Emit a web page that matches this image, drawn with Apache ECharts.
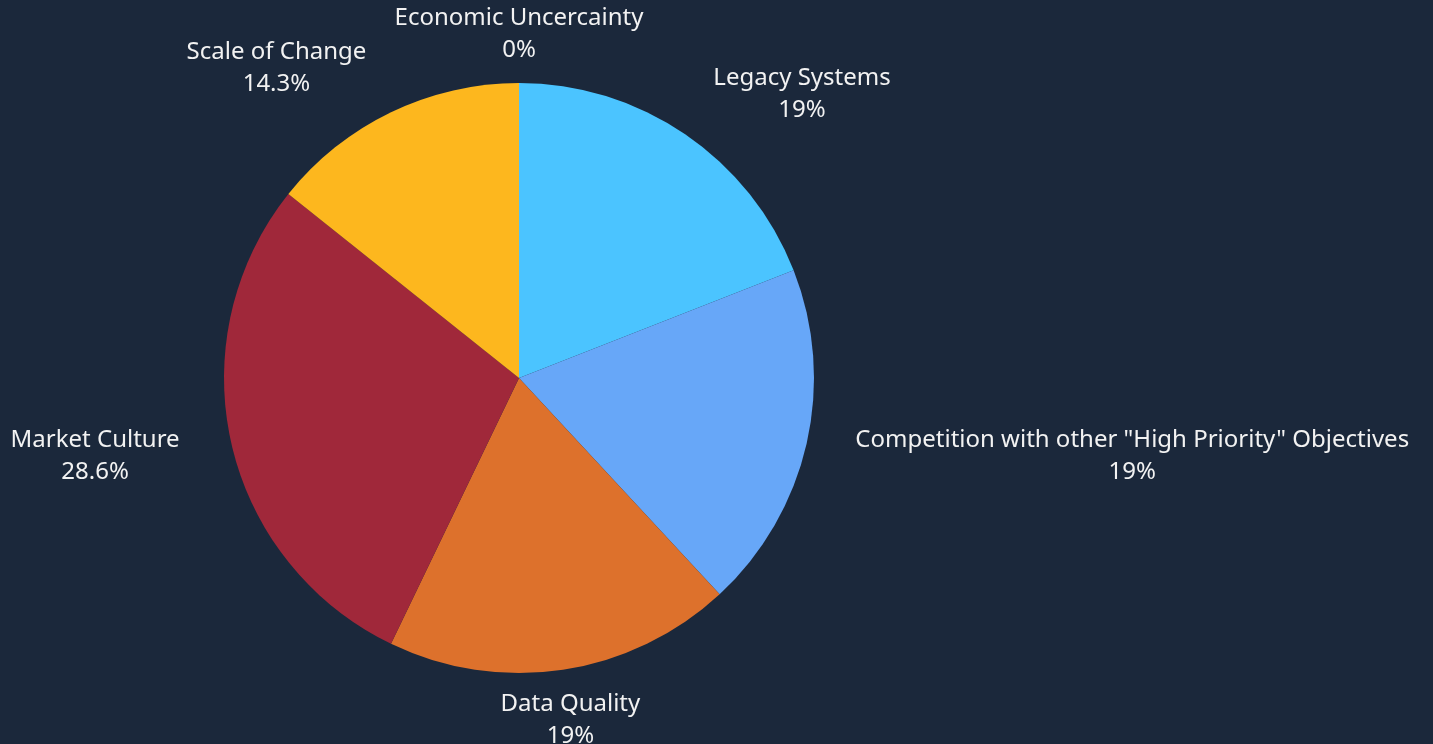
<!DOCTYPE html>
<html>
<head>
<meta charset="utf-8">
<script src="https://cdn.jsdelivr.net/npm/echarts@6/dist/echarts.min.js"></script>
<style>
html,body{margin:0;padding:0;background:#1b283b;}
#chart{width:1433px;height:744px;}
</style>
</head>
<body>
<div id="chart"></div>
<script>
const categories = ['Legacy Systems', 'Competition with other "High Priority" Objectives', 'Data Quality', 'Market Culture', 'Scale of Change', 'Economic Uncercainty'];
const values = [4, 4, 4, 6, 3, 0];
const colors = ['#4bc4ff', '#67a7f8', '#dd712c', '#a0283a', '#fdb71e', '#8e8e8e'];

const total = values.reduce((a, b) => a + b, 0);
const chart = echarts.init(document.getElementById('chart'));
chart.setOption({
  backgroundColor: '#1b283b',
  animation: false,
  series: [{
    type: 'pie',
    center: [519, 378],
    radius: [0, 295],
    startAngle: 90,
    clockwise: true,
    avoidLabelOverlap: false,
    minShowLabelAngle: 0,
    data: categories.map((c, i) => ({ name: c, value: values[i], itemStyle: { color: colors[i] } })),
    itemStyle: { borderWidth: 0 },
    emphasis: { disabled: true },
    label: {
      show: true,
      position: 'outside',
      distanceToLabelLine: 0,
      formatter: p => p.name + '\n' + (Math.round(p.value / total * 1000) / 10) + '%',
      color: '#f2f2f2',
      fontFamily: 'Noto Sans',
      fontSize: 24,
      lineHeight: 32,
      align: 'center'
    },
    labelLine: { show: false, length: 50, length2: 0 },
    labelLayout: function (params) {
      const pts = params.labelLinePoints;
      const r = params.labelRect;
      if (!pts) return {};
      const p0 = pts[0], p1 = pts[1];
      const dx = p1[0] - p0[0], dy = p1[1] - p0[1];
      const len = Math.sqrt(dx * dx + dy * dy) || 1;
      const ratio = dx / len;
      let x;
      if (Math.abs(ratio) < 0.3) x = p1[0];
      else if (ratio > 0) x = p1[0] + r.width / 2;
      else x = p1[0] - r.width / 2 - 3;
      return { x: x, y: p1[1] + 1, align: 'center', verticalAlign: 'middle' };
    }
  }]
});
</script>
</body>
</html>
